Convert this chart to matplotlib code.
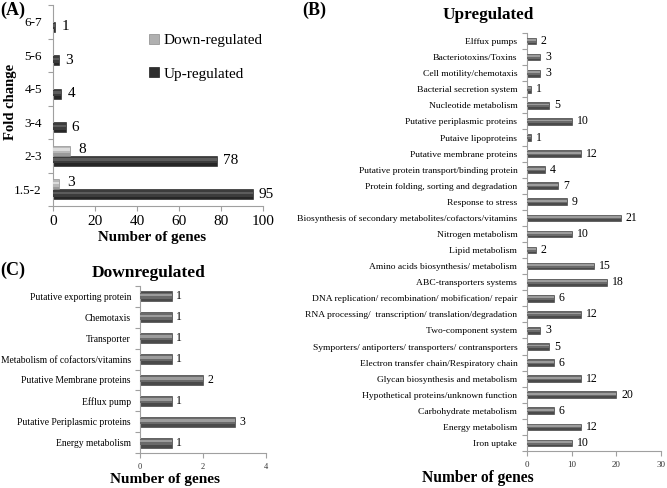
import matplotlib
matplotlib.use("Agg")
import matplotlib.pyplot as plt
from matplotlib.patches import Patch
import numpy as np

plt.rcParams['font.family'] = ['Liberation Serif', 'DejaVu Serif']

# ---------------- data ----------------
fold_cats = ["1.5-2", "2-3", "3-4", "4-5", "5-6", "6-7"]
up_counts = [95, 78, 6, 4, 3, 1]
down_counts = [3, 8, 0, 0, 0, 0]
a_xticks = [0, 20, 40, 60, 80, 100]

up_cats = ["Elffux pumps", "Bacteriotoxins/Toxins", "Cell motility/chemotaxis",
           "Bacterial secretion system", "Nucleotide metabolism",
           "Putative periplasmic proteins", "Putaive lipoproteins",
           "Putative membrane proteins", "Putative protein transport/binding protein",
           "Protein folding, sorting and degradation", "Response to stress",
           "Biosynthesis of secondary metabolites/cofactors/vitamins",
           "Nitrogen metabolism", "Lipid metabolism",
           "Amino acids biosynthesis/ metabolism", "ABC-transporters systems",
           "DNA replication/ recombination/ mobification/ repair",
           "RNA processing/  transcription/ translation/degradation",
           "Two-component system",
           "Symporters/ antiporters/ transporters/ contransporters",
           "Electron transfer chain/Respiratory chain",
           "Glycan biosynthesis and metabolism",
           "Hypothetical proteins/unknown function", "Carbohydrate metabolism",
           "Energy metabolism", "Iron uptake"]
up_vals = [2, 3, 3, 1, 5, 10, 1, 12, 4, 7, 9, 21, 10, 2, 15, 18, 6, 12, 3, 5,
           6, 12, 20, 6, 12, 10]
b_xticks = [0, 10, 20, 30]

down_cats = ["Putative exporting protein", "Chemotaxis", "Transporter",
             "Metabolism of cofactors/vitamins", "Putative Membrane proteins",
             "Efflux pump", "Putative Periplasmic proteins", "Energy metabolism"]
down_vals = [1, 1, 1, 1, 2, 1, 3, 1]
c_xticks = [0, 2, 4]

W, H = 667, 488
fig = plt.figure(figsize=(W / 100, H / 100), dpi=100)


def px_axes(l, t, r, b):
    return fig.add_axes([l / W, 1 - b / H, (r - l) / W, (b - t) / H])


SPINE = "#a0a0a0"


def style_axes(ax, n):
    for s in ["top", "right"]:
        ax.spines[s].set_visible(False)
    for s in ["left", "bottom"]:
        ax.spines[s].set_color(SPINE)
        ax.spines[s].set_linewidth(0.8)
    ax.set_ylim(-0.5, n - 0.5)
    ax.set_yticks(np.arange(n))
    ax.set_yticks(np.arange(n + 1) - 0.5, minor=True)
    ax.tick_params(axis="y", which="major", length=0, pad=6)
    ax.tick_params(axis="y", which="minor", length=3.5, color=SPINE, width=0.8)
    ax.tick_params(axis="x", length=3.5, color=SPINE, width=0.8)


def cyl_bars(ax, y, vals, h, dark, mid, light, edge):
    y = np.asarray(y)
    ax.barh(y, vals, height=h, color=dark, edgecolor=edge, linewidth=0.4, zorder=2)
    ax.barh(y + h * 0.08, vals, height=h * 0.62, color=mid, linewidth=0, zorder=3)
    ax.barh(y + h * 0.14, vals, height=h * 0.26, color=light, linewidth=0, zorder=4)


# ---------------- Panel A ----------------
axA = px_axes(53, 5, 263, 206)
n = len(fold_cats)
ya = np.arange(n)
bh = 0.3
cyl_bars(axA, ya - bh / 2, up_counts, bh, "#262626", "#3c3c3c", "#5c5c5c", "#1a1a1a")
dmask = np.array(down_counts) > 0
cyl_bars(axA, (ya + bh / 2)[dmask], np.array(down_counts)[dmask], bh,
         "#9a9a9a", "#b8b8b8", "#dcdcdc", "#8a8a8a")
style_axes(axA, n)
axA.set_xlim(0, 100)
axA.set_xticks(a_xticks)
axA.set_yticklabels(fold_cats, fontsize=9.5)
axA.tick_params(axis="y", which="major", pad=8)
axA.tick_params(axis="x", labelsize=11, pad=3)
for y, v in zip(ya - bh / 2, up_counts):
    axA.annotate(str(v), (v, y), xytext=(4.5, 0), textcoords="offset points",
                 va="center", ha="left", fontsize=11)
for y, v in zip(ya + bh / 2, down_counts):
    if v > 0:
        axA.annotate(str(v), (v, y), xytext=(6, 1), textcoords="offset points",
                     va="center", ha="left", fontsize=11)
axA.legend(handles=[Patch(facecolor="#b0b0b0", edgecolor="#8a8a8a", lw=0.5),
                    Patch(facecolor="#2e2e2e", edgecolor="#1e1e1e", lw=0.5)],
           labels=["Down-regulated", "Up-regulated"], frameon=False,
           loc="upper left", bbox_to_anchor=(0.43, 0.885), fontsize=11,
           handlelength=0.6, handleheight=0.6, handletextpad=0.3,
           labelspacing=1.3, borderaxespad=0)

# ---------------- Panel B ----------------
axB = px_axes(527, 33, 661, 451)
nb = len(up_cats)
yb = np.arange(nb)[::-1]
cyl_bars(axB, yb, up_vals, 0.42, "#4a4a4a", "#6a6a6a", "#9c9c9c", "#333333")
style_axes(axB, nb)
axB.set_xlim(0, 30)
axB.set_xticks(b_xticks)
axB.set_yticks(yb)
axB.set_yticklabels(up_cats, fontsize=6.8)
axB.tick_params(axis="y", which="major", pad=7)
axB.tick_params(axis="x", labelsize=6.5, labelcolor="#333333", pad=3.5)
for y, v in zip(yb, up_vals):
    axB.annotate(str(v), (v, y), xytext=(3.5, 0), textcoords="offset points",
                 va="center", ha="left", fontsize=8.5)

# ---------------- Panel C ----------------
axC = px_axes(140, 286, 266, 453)
nc = len(down_cats)
yc = np.arange(nc)[::-1]
cyl_bars(axC, yc, down_vals, 0.48, "#4a4a4a", "#6a6a6a", "#9c9c9c", "#333333")
style_axes(axC, nc)
axC.set_xlim(0, 4)
axC.set_xticks(c_xticks)
axC.set_yticks(yc)
axC.set_yticklabels(down_cats, fontsize=6.9)
axC.tick_params(axis="y", which="major", pad=6.5)
axC.tick_params(axis="x", labelsize=6, labelcolor="#333333", pad=4)
for y, v in zip(yc, down_vals):
    axC.annotate(str(v), (v, y), xytext=(3.5, 0), textcoords="offset points",
                 va="center", ha="left", fontsize=8.5)

# ---------------- figure texts ----------------
def ftext(x, y, s, **kw):
    fig.text(x / W, 1 - y / H, s, **kw)

ftext(0, 10, "(A)", fontsize=13, fontweight="bold", va="center", ha="left")
ftext(302, 10, "(B)", fontsize=13, fontweight="bold", va="center", ha="left")
ftext(0, 270, "(C)", fontsize=13, fontweight="bold", va="center", ha="left")
ftext(488, 15, "Upregulated", fontsize=12.3, fontweight="bold", va="center", ha="center")
ftext(149, 273, "Downregulated", fontsize=12.5, fontweight="bold", va="center", ha="center")
ftext(152, 238, "Number of genes", fontsize=10.8, fontweight="bold", va="center", ha="center")
ftext(478, 478, "Number of genes", fontsize=11.2, fontweight="bold", va="center", ha="center")
ftext(165, 480, "Number of genes", fontsize=11, fontweight="bold", va="center", ha="center")
ftext(11, 102, "Fold change", fontsize=10.5, fontweight="bold", va="center",
      ha="center", rotation=90)

fig.savefig("out.png", dpi=100)
